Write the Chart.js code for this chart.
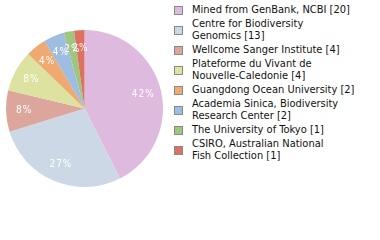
<!DOCTYPE html>
<html>
<head>
<meta charset="utf-8">
<script src="https://cdn.jsdelivr.net/npm/chart.js@4"></script>
<style>
  body { margin: 0; background: #fff; }
  #wrap { position: relative; width: 380px; height: 240px; overflow: hidden; }
  #pie { position: absolute; left: 6px; top: 30px; }
  #legend { position: absolute; left: 174px; top: 4px; font-family: "DejaVu Sans Condensed", "DejaVu Sans", sans-serif; font-size: 11px; line-height: 12px; color: #111; }
  .item { display: flex; align-items: center; margin-bottom: 2px; }
  .box { width: 7px; height: 7px; border: 1px solid #888; margin-right: 9px; flex: none; }
</style>
</head>
<body>
<div id="wrap">
  <canvas id="pie" width="157" height="157"></canvas>
  <div id="legend"></div>
</div>
<script>
// sources and record counts
var labels = [
  ["Mined from GenBank, NCBI [20]"],
  ["Centre for Biodiversity", "Genomics [13]"],
  ["Wellcome Sanger Institute [4]"],
  ["Plateforme du Vivant de", "Nouvelle-Caledonie [4]"],
  ["Guangdong Ocean University [2]"],
  ["Academia Sinica, Biodiversity", "Research Center [2]"],
  ["The University of Tokyo [1]"],
  ["CSIRO, Australian National", "Fish Collection [1]"]
];
var counts = [20, 13, 4, 4, 2, 2, 1, 1];
var colors = ["#debbde", "#ccd8e5", "#dca69c", "#dde2a0", "#eeaa70", "#9ebde0", "#9ec67e", "#de7262"];

var total = counts.reduce(function (a, b) { return a + b; }, 0);

// percent labels inside slices
var pctLabels = {
  id: "pctLabels",
  afterDatasetsDraw: function (chart) {
    var ctx = chart.ctx;
    var meta = chart.getDatasetMeta(0);
    ctx.save();
    ctx.fillStyle = "#fff";
    ctx.font = "10px 'DejaVu Sans Condensed', 'DejaVu Sans'";
    ctx.letterSpacing = "1px";
    ctx.textAlign = "center";
    ctx.textBaseline = "middle";
    meta.data.forEach(function (arc, i) {
      var p = arc.getProps(["x", "y", "startAngle", "endAngle", "outerRadius"], true);
      var mid = (p.startAngle + p.endAngle) / 2;
      var r = p.outerRadius * 0.77;
      var txt = Math.floor(counts[i] / total * 100) + "%";
      ctx.fillText(txt, p.x + Math.cos(mid) * r, p.y + Math.sin(mid) * r);
    });
    ctx.restore();
  }
};

var ctx = document.getElementById("pie").getContext("2d");
var chart = new Chart(ctx, {
  type: "pie",
  data: {
    labels: labels.map(function (l) { return l.join(" "); }),
    datasets: [{
      data: counts,
      backgroundColor: colors,
      borderWidth: 0
    }]
  },
  options: {
    responsive: false,
    animation: false,
    layout: { padding: 0 },
    plugins: { legend: { display: false }, tooltip: { enabled: false } }
  },
  plugins: [pctLabels]
});

// legend on the right
var leg = document.getElementById("legend");
labels.forEach(function (l, i) {
  var item = document.createElement("div");
  item.className = "item";
  var box = document.createElement("div");
  box.className = "box";
  box.style.background = colors[i];
  var txt = document.createElement("div");
  txt.innerHTML = l.join("<br>");
  item.appendChild(box);
  item.appendChild(txt);
  leg.appendChild(item);
});
</script>
</body>
</html>
